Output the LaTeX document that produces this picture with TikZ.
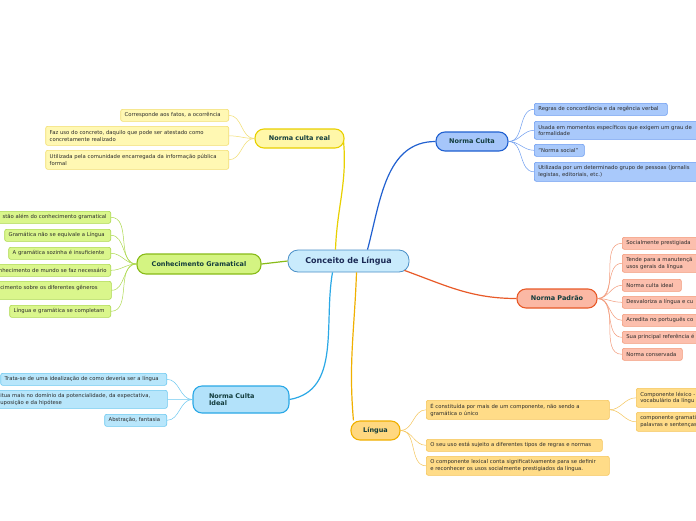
\documentclass[tikz,border=0pt]{standalone}
\usepackage{fontspec}
\setmainfont{DejaVu Sans}
\usetikzlibrary{calc}
\definecolor{txt}{HTML}{2A2A2A}
\definecolor{mtxt}{HTML}{123C3C}
\definecolor{ctxt}{HTML}{1B2A55}
\definecolor{yF}{HTML}{FFF8B3}\definecolor{yB}{HTML}{F2DE70}\definecolor{yM}{HTML}{FFF7A8}\definecolor{yMB}{HTML}{E8D000}
\definecolor{gF}{HTML}{DAF68C}\definecolor{gB}{HTML}{ADD94E}\definecolor{gM}{HTML}{D4F482}\definecolor{gMB}{HTML}{88BB18}
\definecolor{iF}{HTML}{B8E6FB}\definecolor{iB}{HTML}{6CC8F0}\definecolor{iM}{HTML}{B3E2FA}\definecolor{iMB}{HTML}{2AA8E6}
\definecolor{nF}{HTML}{A9C9FB}\definecolor{nB}{HTML}{6C9CF0}\definecolor{nM}{HTML}{A6C6FA}\definecolor{nMB}{HTML}{2060D0}
\definecolor{pF}{HTML}{FCBFAD}\definecolor{pB}{HTML}{F39A7A}\definecolor{pM}{HTML}{FBB8A4}\definecolor{pMB}{HTML}{E85A28}
\definecolor{lF}{HTML}{FFDC88}\definecolor{lB}{HTML}{F5C55A}\definecolor{lM}{HTML}{FFD880}\definecolor{lMB}{HTML}{F0B000}
\definecolor{cF}{HTML}{C9EBFC}\definecolor{cB}{HTML}{4A90C8}
\newcommand{\leaffont}{\fontsize{5.3}{6.7}\selectfont\hyphenpenalty=10000\exhyphenpenalty=10000}
\tikzset{
  leaf/.style={draw, line width=0.6pt, rounded corners=2pt, font=\leaffont, text=txt,
     inner xsep=4pt, inner ysep=1pt, align=left, anchor=north west, minimum height=12pt},
  leafL/.style={leaf, anchor=north east},
  mainbox/.style={draw, line width=1.1pt, rounded corners=9pt, font=\fontsize{6.5}{7.8}\selectfont\bfseries, text=mtxt, inner sep=0pt},
  fan/.style={line width=0.5pt},
  trunk/.style={line width=1.2pt},
}
\begin{document}
\begin{tikzpicture}[x=1pt,y=-1pt]
\useasboundingbox (0,0) rectangle (696,520);
\clip (0,0) rectangle (696,520);
\fill[white] (0,0) rectangle (696,520);

% central
\node[draw=cB, fill=cF, line width=0.8pt, rounded corners=10pt, minimum width=121pt, minimum height=22pt,
  font=\fontsize{8}{9}\selectfont\bfseries, text=ctxt, inner sep=0pt] (c) at (348.5,261) {Conceito de Língua};

% Norma culta real
\node[mainbox, draw=yMB, fill=yM, minimum width=89pt, minimum height=19pt] (nr) at (299.5,138.5) {Norma culta real};
\node[leafL, draw=yB, fill=yF, text width=100pt] (nr1) at (229,109) {Corresponde aos fatos, a ocorrência};
\node[leafL, draw=yB, fill=yF, text width=175pt, minimum height=19pt] (nr2) at (229,126) {Faz uso do concreto, daquilo que pode ser atestado como\\concretamente realizado};
\node[leafL, draw=yB, fill=yF, text width=175pt, minimum height=19pt] (nr3) at (229,150) {Utilizada pela comunidade encarregada da informação pública\\formal};
\foreach \n in {nr1,nr2,nr3} \draw[fan, yB] (nr.west) to[out=180,in=0] (\n.east);

% Conhecimento Gramatical
\node[mainbox, draw=gMB, fill=gM, minimum width=124pt, minimum height=20pt] (cg) at (199,264) {Conhecimento Gramatical};
\node[leafL, draw=gB, fill=gF, text width=113pt, align=right] (cg1) at (111,211) {stão além do conhecimento gramatical};
\node[leafL, draw=gB, fill=gF, text width=98pt] (cg2) at (111,229) {Gramática não se equivale a Língua};
\node[leafL, draw=gB, fill=gF, text width=94pt] (cg3) at (111,247) {A gramática sozinha é insuficiente};
\node[leafL, draw=gB, fill=gF, text width=113pt, align=right] (cg4) at (111,264) {nhecimento de mundo se faz necessário};
\node[leaf, draw=gB, fill=gF, text width=107pt, minimum height=18pt] (cg5) at (-4,281) {cimento sobre os diferentes gêneros\\[0pt]\phantom{x}};
\node[leafL, draw=gB, fill=gF, text width=93pt] (cg6) at (111,305) {Língua e gramática se completam};
\draw[trunk, gMB] (c.west) -- (cg.east);
\foreach \n in {cg1,cg2,cg3,cg4,cg5,cg6} \draw[fan, gB] (cg.west) to[out=180,in=0] (\n.east);

% Norma Culta Ideal
\node[mainbox, draw=iMB, fill=iM, minimum width=96pt, minimum height=27pt, text width=64pt, align=left] (ni) at (241,399.5) {Norma Culta\\Ideal};
\node[leafL, draw=iB, fill=iF, text width=158pt] (ni1) at (167,373) {Trata-se de uma idealização de como deveria ser a língua};
\node[leaf, draw=iB, fill=iF, text width=163pt, minimum height=18pt] (ni2) at (-4,390) {itua mais no domínio da potencialidade, da expectativa,\\uposição e da hipótese};
\node[leafL, draw=iB, fill=iF, text width=54pt] (ni3) at (167,414) {Abstração, fantasia};
\foreach \n in {ni1,ni2,ni3} \draw[fan, iB] (ni.west) to[out=180,in=0] (\n.east);

% Norma Culta
\node[mainbox, draw=nMB, fill=nM, minimum width=72pt, minimum height=19pt] (nc) at (472,141.5) {Norma Culta};
\node[leaf, draw=nB, fill=nF, text width=125pt] (nc1) at (534,103) {Regras de concordância e da regência verbal};
\node[leaf, draw=nB, fill=nF, text width=185pt, minimum height=18pt] (nc2) at (534,121) {Usada em momentos específicos que exigem um grau de\\formalidade};
\node[leaf, draw=nB, fill=nF, text width=42pt] (nc3) at (534,144) {"Norma social"};
\node[leaf, draw=nB, fill=nF, text width=185pt, minimum height=19pt] (nc4) at (534,162) {Utilizada por um determinado grupo de pessoas (jornalis\\legistas, editoriais, etc.)};
\foreach \n in {nc1,nc2,nc3,nc4} \draw[fan, nB] (nc.east) to[out=0,in=180] (\n.west);

% Norma Padrao
\node[mainbox, draw=pMB, fill=pM, minimum width=80pt, minimum height=19pt] (np) at (557,298.5) {Norma Padrão};
\node[leaf, draw=pB, fill=pF, text width=100pt] (np1) at (622,237) {Socialmente prestigiada};
\node[leaf, draw=pB, fill=pF, text width=100pt, minimum height=18pt] (np2) at (622,254) {Tende para a manutençã\\usos gerais da língua};
\node[leaf, draw=pB, fill=pF, text width=51pt] (np3) at (622,279) {Norma culta ideal};
\node[leaf, draw=pB, fill=pF, text width=100pt] (np4) at (622,296) {Desvaloriza a língua e cu};
\node[leaf, draw=pB, fill=pF, text width=100pt] (np5) at (622,314) {Acredita no português co};
\node[leaf, draw=pB, fill=pF, text width=100pt] (np6) at (622,331) {Sua principal referência é};
\node[leaf, draw=pB, fill=pF, text width=52pt] (np7) at (622,348) {Norma conservada};
\foreach \n in {np1,np2,np3,np4,np5,np6,np7} \draw[fan, pB] (np.east) to[out=0,in=180] (\n.west);

% Lingua
\node[mainbox, draw=lMB, fill=lM, minimum width=49pt, minimum height=19pt] (li) at (375.5,430.5) {Língua};
\node[leaf, draw=lB, fill=lF, text width=175pt, minimum height=19pt] (li1) at (426,400) {É constituída por mais de um componente, não sendo a\\gramática o único};
\node[leaf, draw=lB, fill=lF, text width=168pt] (li2) at (426,439) {O seu uso está sujeito a diferentes tipos de regras e normas};
\node[leaf, draw=lB, fill=lF, text width=175pt, minimum height=19pt] (li3) at (426,456) {O componente lexical conta significativamente para se definir\\e reconhecer os usos socialmente prestigiados da língua.};
\node[leaf, draw=lB, fill=lF, text width=80pt, minimum height=19pt] (li11) at (636,388) {Componente léxico -\\vocabulário da língu};
\node[leaf, draw=lB, fill=lF, text width=80pt, minimum height=19pt] (li12) at (636,412) {componente gramati\\palavras e sentenças};
\foreach \n in {li1,li2,li3} \draw[fan, lB] (li.east) to[out=0,in=180] (\n.west);
\foreach \n in {li11,li12} \draw[fan, lB] (li1.east) to[out=0,in=180] (\n.west);

% trunks
\draw[trunk, yMB] ($(c.north)+(-13,0)$) to[out=88,in=-85] ($(nr.east)+(-1,3)$);
\draw[trunk, nMB] ($(c.north)+(19,0)$) to[out=75,in=180] (nc.west);
\draw[trunk, pMB] ($(c.south east)+(-5,-2)$) to[out=-20,in=180] (np.west);
\draw[trunk, lMB] ($(c.south)+(8,0)$) to[out=-92,in=95] ($(li.north west)+(3,0)$);
\draw[trunk, iMB] ($(c.south)+(-16,0)$) to[out=-100,in=10] (ni.east);
\end{tikzpicture}
\end{document}
